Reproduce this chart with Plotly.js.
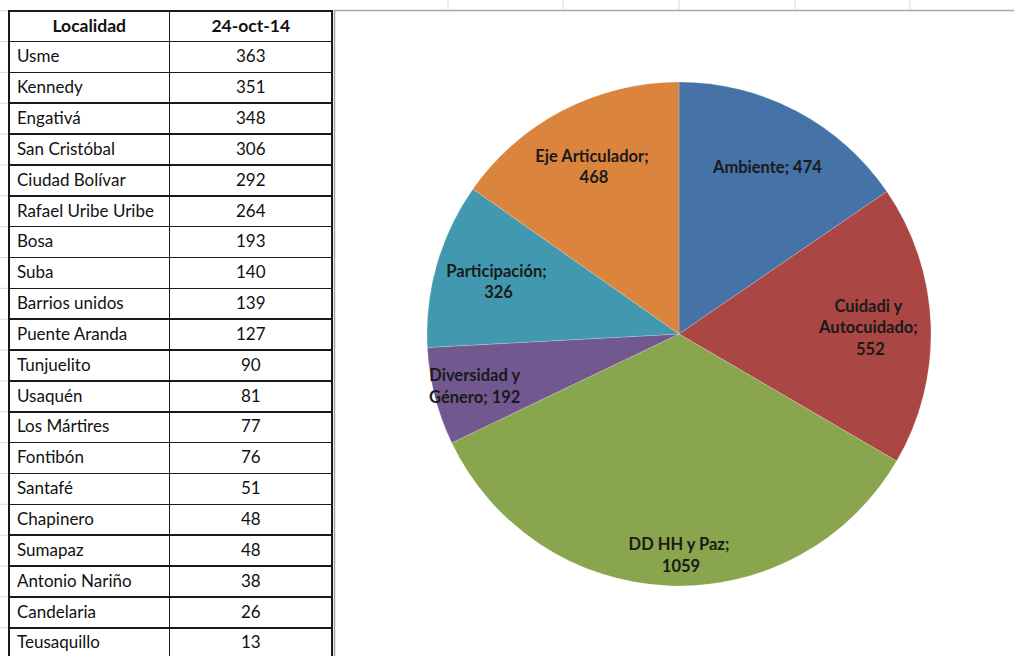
<!DOCTYPE html>
<html>
<head>
<meta charset="utf-8">
<script src="https://cdn.plot.ly/plotly-3.0.1.min.js"></script>
<style>
html,body{margin:0;padding:0;overflow:hidden;background:#fff;}
#chart{width:1014px;height:662px;}
</style>
</head>
<body>
<div id="chart"></div>
<script>
// ---- Data ----
var tableHeader = ["Localidad", "24-oct-14"];
var localidades = ["Usme","Kennedy","Engativá","San Cristóbal","Ciudad Bolívar","Rafael Uribe Uribe","Bosa","Suba","Barrios unidos","Puente Aranda","Tunjuelito","Usaquén","Los Mártires","Fontibón","Santafé","Chapinero","Sumapaz","Antonio Nariño","Candelaria","Teusaquillo"];
var localidadValues = [363,351,348,306,292,264,193,140,139,127,90,81,77,76,51,48,48,38,26,13];

var ejes = ["Ambiente","Cuidadi y Autocuidado","DD HH y Paz","Diversidad y Género","Participación","Eje Articulador"];
var ejeValues = [474,552,1059,192,326,468];
var ejeLabelLines = ["Ambiente;","Cuidadi y<br>Autocuidado;<br>","DD HH y Paz;<br>","Diversidad y<br>Género;","Participación;<br>","Eje Articulador;<br>"];
var ejeColors = ["#4572A7","#AA4643","#89A54E","#71588F","#4198AF","#DB843D"];
var outerLabelSlices = ["DD HH y Paz"]; // labels drawn nearer the rim

// ---- Layout geometry ----
var W = 1014, H = 662;
var tableTop = 10.7, rowH = 30.85;
var nRows = localidades.length + 1;
var tableBottom = tableTop + nRows * rowH;
var FONT = "Lato, 'Open Sans', sans-serif";

var tableTrace = {
  type: "table",
  domain: {x: [9/W, 332/W], y: [Math.max(0, 1 - tableBottom/H), 1 - tableTop/H]},
  columnwidth: [161, 163],
  header: {
    values: tableHeader,
    align: ["center","center"],
    height: rowH,
    fill: {color: "#ffffff"},
    line: {color: "#1a1a1a", width: 1.6},
    font: {family: FONT, size: 17.5, color: "#111", weight: "bold"}
  },
  cells: {
    values: [localidades, localidadValues],
    align: ["left","center"],
    height: rowH,
    fill: {color: "#ffffff"},
    line: {color: "#1a1a1a", width: 1.6},
    font: {family: FONT, size: 17, color: "#111"}
  }
};

var cx = 679, cy = 334, R = 252;
var pieDomain = {x: [(cx - R)/W, (cx + R)/W], y: [1 - (cy + R)/H, 1 - (cy - R)/H]};

var fullText = ejes.map(function (e, i) { return ejeLabelLines[i] + " " + ejeValues[i]; });
var innerText = ejes.map(function (e, i) { return outerLabelSlices.indexOf(e) < 0 ? fullText[i] : ""; });
var outerText = ejes.map(function (e, i) { return outerLabelSlices.indexOf(e) >= 0 ? fullText[i] : ""; });
var clear = ejes.map(function () { return "rgba(0,0,0,0)"; });
var labelFont = {family: FONT, size: 16.5, color: "#1a1a1a", weight: "bold"};

var pieTrace = {
  type: "pie",
  labels: ejes,
  values: ejeValues,
  sort: false,
  direction: "clockwise",
  rotation: 0,
  domain: pieDomain,
  marker: {colors: ejeColors, line: {color: "rgba(255,255,255,0.4)", width: 0.5}},
  textinfo: "none",
  showlegend: false
};

function labelPie(texts, hole) {
  return {
    type: "pie",
    labels: ejes,
    values: ejeValues,
    customdata: texts,
    sort: false,
    direction: "clockwise",
    rotation: 0,
    hole: hole,
    domain: pieDomain,
    marker: {colors: clear, line: {width: 0}},
    texttemplate: "%{customdata}",
    textposition: "inside",
    insidetextorientation: "horizontal",
    insidetextfont: labelFont,
    showlegend: false
  };
}

// decorative spreadsheet frame lines
var shapes = [];
shapes.push({type: "rect", xref: "paper", yref: "paper",
  x0: 334.5/W, x1: 1.01, y0: -0.01, y1: 1 - 10.5/H,
  line: {color: "#a6a6a6", width: 1.5}, fillcolor: "rgba(0,0,0,0)", layer: "below"});
[448, 563, 679, 795, 910].forEach(function (x) {
  shapes.push({type: "line", xref: "paper", yref: "paper", x0: x/W, x1: x/W, y0: 1 - 10/H, y1: 1,
    line: {color: "#d9d9d9", width: 1}});
});
for (var i = 0; i <= nRows; i++) {
  var yy = tableTop + i * rowH;
  shapes.push({type: "line", xref: "paper", yref: "paper", x0: 0, x1: 8/W, y0: 1 - yy/H, y1: 1 - yy/H,
    line: {color: "#d9d9d9", width: 1}});
}

var layout = {
  width: W, height: H,
  margin: {l: 0, r: 0, t: 0, b: 0},
  paper_bgcolor: "#ffffff",
  showlegend: false,
  uniformtext: {mode: "show", minsize: 16.5},
  shapes: shapes
};

Plotly.newPlot("chart", [tableTrace, pieTrace, labelPie(innerText, 0.5), labelPie(outerText, 0.78)], layout,
  {displayModeBar: false, staticPlot: true});
</script>
</body>
</html>
